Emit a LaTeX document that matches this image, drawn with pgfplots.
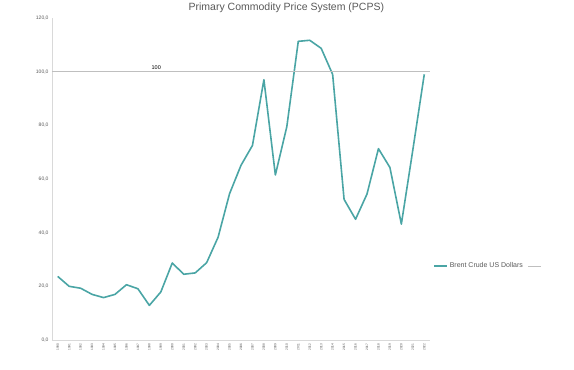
\documentclass[border=0pt]{standalone}
\usepackage{pgfplots}
\pgfplotsset{compat=1.18}
\usepackage{fontspec}
\setmainfont{Liberation Sans}
\definecolor{teal1}{HTML}{4AA5A5}
\definecolor{axgray}{HTML}{D9D9D9}
\definecolor{txtgray}{HTML}{595959}
\definecolor{refgray}{HTML}{BFBFBF}
\begin{document}
\begin{tikzpicture}
\path[use as bounding box] (-52pt,-30pt) rectangle (522pt,340pt);
\begin{axis}[
  scale only axis,
  width=378pt, height=322pt,
  xmin=1989.5, xmax=2022.5,
  ymin=0, ymax=120,
  axis lines*=left,
  axis line style={axgray, line width=0.8pt},
  ytick={0,20,...,120},
  xtick={1990,...,2022},
  major tick length=0pt,
  tick style={draw=none},
  /pgf/number format/assume math mode=true,
  y tick label style={font=\fontsize{5}{6}\selectfont, text=txtgray,
    /pgf/number format/.cd, fixed, fixed zerofill, precision=1, use comma},
  x tick label style={font=\fontsize{3.2}{4}\selectfont, text=txtgray, rotate=90, anchor=east,
    /pgf/number format/.cd, 1000 sep={}},
  legend style={at={(1.0,0.23)}, anchor=west, draw=none, fill=none,
    font=\fontsize{7}{8}\selectfont, text=txtgray, legend columns=2,
    /tikz/every even column/.append style={column sep=3pt}},
  legend image code/.code={\draw[#1] (0pt,0pt) -- (13pt,0pt);},
  clip=false,
]
\addplot[teal1, line width=1.6pt, line join=round] coordinates {
(1990,23.7) (1991,20.0) (1992,19.3) (1993,17.0) (1994,15.8) (1995,17.0)
(1996,20.6) (1997,19.1) (1998,12.9) (1999,17.9) (2000,28.7) (2001,24.5)
(2002,25.0) (2003,28.8) (2004,38.3) (2005,54.5) (2006,65.1) (2007,72.5)
(2008,97.0) (2009,61.5) (2010,79.5) (2011,111.3) (2012,111.7) (2013,108.7)
(2014,99.0) (2015,52.4) (2016,45.0) (2017,54.4) (2018,71.3) (2019,64.3)
(2020,43.2) (2021,70.8) (2022,99.0)
};
\addlegendentry{Brent Crude US Dollars}
\addplot[refgray, line width=0.8pt] coordinates {(1989.5,100) (2022.5,100)};
\addlegendentry{}
\node[anchor=south, font=\fontsize{5.5}{6}\selectfont, text=black, inner sep=1.5pt] at (axis cs:1998.6,100) {100};
\node[font=\fontsize{10.5}{12}\selectfont, text=txtgray] at ([yshift=10pt]rel axis cs:0.62,1) {Primary Commodity Price System (PCPS)};
\end{axis}
\end{tikzpicture}
\end{document}
